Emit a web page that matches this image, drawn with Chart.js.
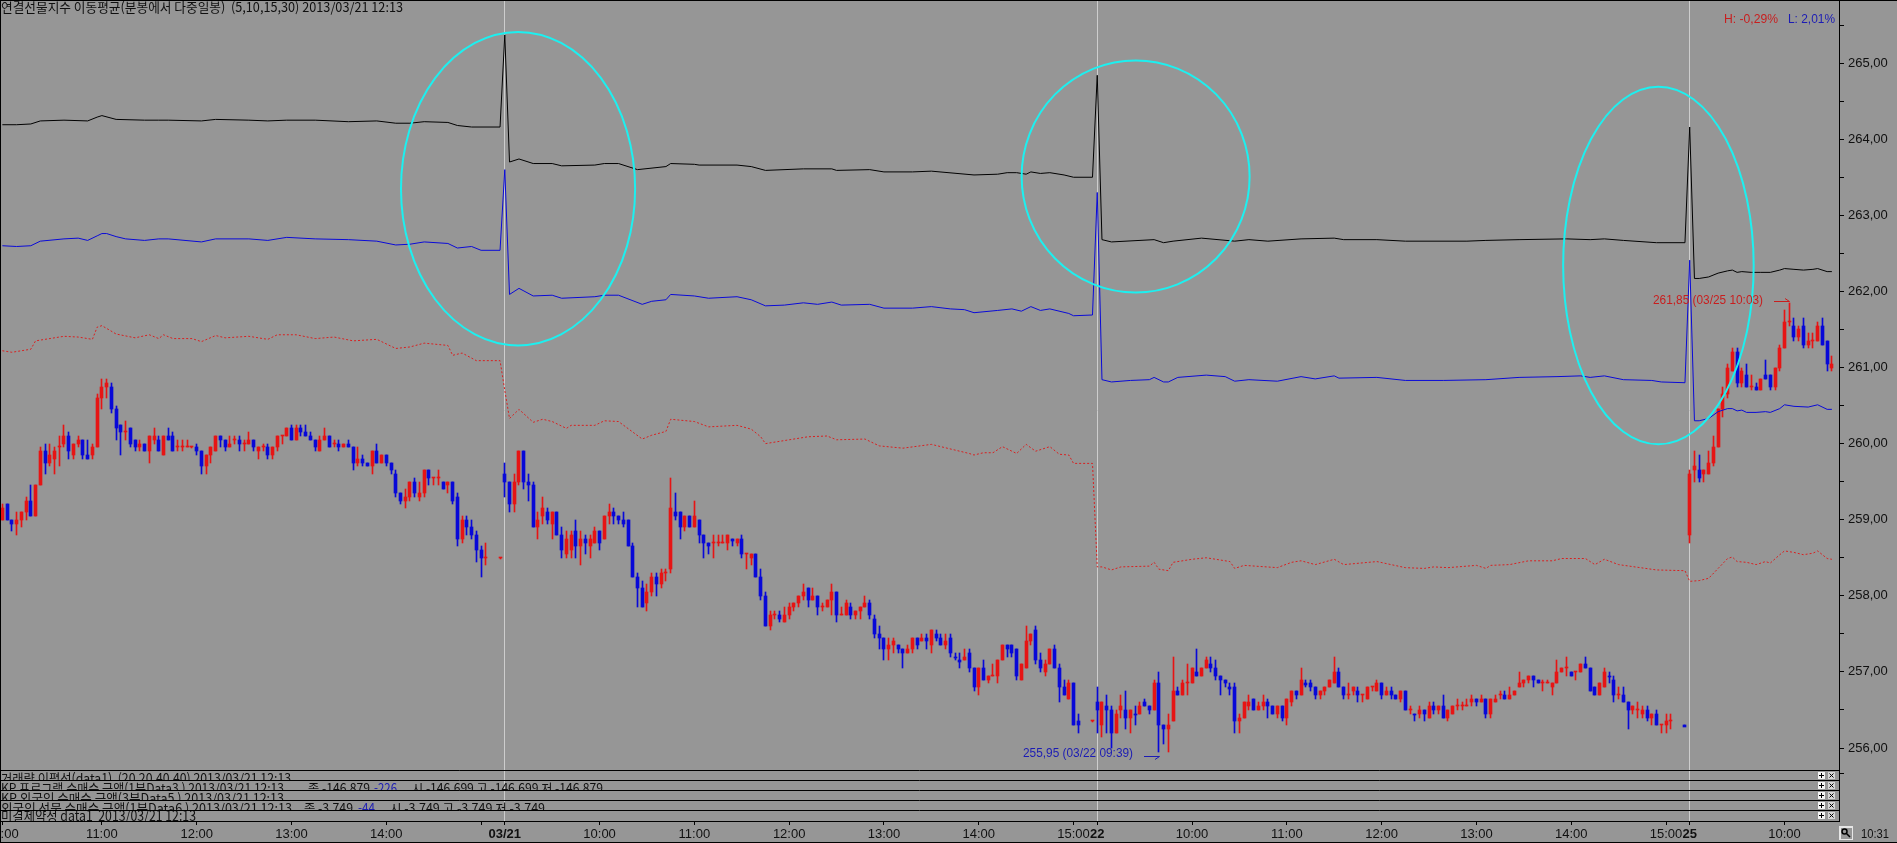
<!DOCTYPE html>
<html lang="ko">
<head>
<meta charset="UTF-8">
<title>연결선물지수 이동평균</title>
<script src="https://cdn.jsdelivr.net/npm/chart.js"></script>
<style>
    html, body { margin: 0; padding: 0; background: #969696; overflow: hidden; }
    canvas { display: block; background: #969696; }
</style>
</head>
<body>
<canvas id="chart" width="1897" height="843"></canvas>
<script>
// 3 minute candles, 03/20 10:00 to 03/25 10:30. null = no trade printed
const opens = [
259.00,259.20,259.00,258.95,259.00,259.10,259.25,259.05,259.45,259.90,
259.75,259.80,259.95,260.00,260.10,259.85,260.00,260.05,259.85,259.85,
259.95,260.60,260.75,260.75,260.45,260.25,260.15,260.20,260.05,259.95,
260.00,259.90,260.05,260.05,259.85,260.10,260.10,259.95,259.95,259.95,
259.95,259.95,259.90,259.70,259.85,259.90,260.10,260.05,259.95,260.05,
260.05,260.00,260.00,260.05,259.90,259.95,259.95,259.85,259.95,260.10,
260.10,260.20,260.05,260.20,260.15,260.10,260.05,259.90,260.05,260.10,
260.00,260.00,259.95,260.00,259.95,259.75,259.80,259.75,259.70,259.90,
259.75,259.85,259.75,259.60,259.35,259.25,259.30,259.50,259.30,259.35,
259.65,259.55,259.55,259.50,259.45,259.50,259.30,258.75,259.00,258.90,
258.80,258.60,258.50,null,null,258.50,259.60,259.50,259.20,259.50,
259.90,259.50,259.45,258.90,259.05,259.10,258.95,259.10,258.80,258.55,
258.60,258.85,258.65,258.75,258.65,258.70,258.85,258.75,259.05,259.10,
259.05,259.00,259.00,258.65,258.25,258.10,257.90,258.05,258.25,258.15,
258.30,258.35,259.10,259.10,258.90,259.05,258.90,259.00,258.80,258.70,
258.70,258.70,258.70,258.70,258.75,258.70,258.75,258.55,258.50,258.55,
258.25,258.00,257.60,257.75,257.75,257.65,257.75,257.85,257.90,258.00,
258.10,257.95,258.00,257.85,257.85,257.95,258.05,257.75,257.75,257.85,
257.75,257.80,257.85,257.90,257.70,257.50,257.45,257.30,257.35,257.35,
257.30,257.25,257.30,257.45,257.40,257.45,257.35,257.50,257.45,257.35,
257.45,257.20,257.15,257.15,257.25,257.05,256.80,257.05,256.90,256.95,
256.95,257.15,257.35,257.35,257.30,256.90,257.05,257.40,257.55,257.15,
257.00,257.10,257.30,257.05,256.80,256.65,256.85,256.35,null,null,
256.35,256.60,256.30,256.55,256.50,256.20,256.50,256.50,256.40,256.45,
256.45,256.60,256.55,256.50,256.85,256.30,256.25,256.35,256.75,256.70,
256.85,256.85,257.00,256.95,257.05,257.10,257.05,256.95,256.90,256.80,
256.80,256.35,256.40,256.55,256.65,256.50,256.55,256.60,256.55,256.45,
256.55,256.40,256.60,256.75,256.70,256.85,256.85,256.80,256.70,256.75,
256.80,256.85,257.00,256.80,256.70,256.75,256.75,256.70,256.65,256.80,
256.75,256.85,256.70,256.75,256.70,256.65,256.75,256.50,256.45,256.45,
256.50,256.40,256.55,256.50,256.55,256.40,256.45,256.55,256.55,256.55,
256.60,256.65,256.60,256.65,256.45,256.60,256.70,256.70,256.65,256.70,
256.80,256.85,256.90,256.95,256.90,256.85,256.85,256.80,256.85,257.00,
257.05,257.00,257.00,257.00,257.10,257.05,256.80,256.70,256.80,256.95,
256.90,256.70,256.70,256.60,256.50,256.50,256.45,256.50,256.40,256.45,
256.30,256.30,256.35,null,null,256.30,258.80,259.65,259.65,259.60,
259.60,259.75,259.95,260.45,260.65,260.95,261.20,260.80,260.90,260.75,
260.75,260.70,260.90,260.90,260.75,261.00,261.25,261.60,261.55,261.40,
261.55,261.30,261.35,261.35,261.55,261.35,261.00
];
const highs = [
259.20,259.20,259.00,259.10,259.10,259.30,259.45,259.45,259.95,260.00,
260.00,259.95,260.10,260.25,260.15,260.00,260.10,260.05,260.05,260.00,
260.65,260.85,260.85,260.80,260.50,260.25,260.30,260.20,260.05,260.05,
260.00,260.10,260.20,260.10,260.10,260.20,260.15,260.05,260.05,260.05,
259.95,260.00,259.90,259.85,259.95,260.10,260.10,260.05,260.10,260.10,
260.10,260.05,260.15,260.05,259.95,260.00,260.00,259.95,260.10,260.10,
260.20,260.25,260.25,260.25,260.25,260.15,260.05,260.10,260.20,260.10,
260.05,260.05,260.00,260.05,259.95,259.95,259.85,259.75,259.90,260.00,
259.85,259.85,259.75,259.65,259.35,259.40,259.50,259.55,259.50,259.65,
259.65,259.55,259.65,259.50,259.50,259.50,259.35,259.05,259.05,259.00,
258.85,258.65,258.70,null,null,258.50,259.75,259.50,259.60,259.90,
259.90,259.60,259.50,259.10,259.30,259.15,259.10,259.10,258.90,258.85,
258.85,259.00,258.85,258.80,258.80,258.90,258.85,259.05,259.20,259.15,
259.05,259.10,259.00,258.70,258.30,258.20,258.15,258.30,258.30,258.35,
258.35,259.55,259.35,259.10,259.05,259.05,259.25,259.00,258.80,258.70,
258.80,258.80,258.80,258.80,258.75,258.75,258.80,258.55,258.55,258.55,
258.35,258.05,257.80,257.80,257.80,257.85,257.90,257.90,258.00,258.15,
258.10,258.10,258.00,257.90,257.95,258.15,258.05,257.85,257.95,257.90,
257.80,257.85,258.00,257.95,257.75,257.60,257.45,257.45,257.45,257.35,
257.30,257.35,257.45,257.45,257.50,257.50,257.55,257.55,257.50,257.50,
257.50,257.25,257.25,257.30,257.30,257.05,257.05,257.15,256.95,257.10,
257.15,257.35,257.35,257.35,257.30,257.10,257.60,257.50,257.60,257.25,
257.15,257.30,257.35,257.10,256.90,256.90,256.85,256.45,null,null,
256.35,256.80,256.60,256.70,256.55,256.50,256.70,256.75,256.50,256.55,
256.60,256.65,256.55,256.90,257.00,256.30,256.45,257.20,256.80,256.90,
257.10,257.05,257.30,257.05,257.20,257.20,257.15,256.95,256.90,256.85,
256.85,256.45,256.60,256.70,256.65,256.60,256.70,256.65,256.55,256.55,
256.55,256.65,256.75,256.75,257.05,256.90,256.90,256.80,256.75,256.80,
256.90,257.20,257.05,256.80,256.85,256.80,256.80,256.70,256.80,256.80,
256.90,256.85,256.80,256.80,256.70,256.75,256.75,256.55,256.45,256.55,
256.50,256.60,256.60,256.55,256.70,256.50,256.55,256.65,256.60,256.65,
256.70,256.65,256.70,256.65,256.65,256.70,256.75,256.75,256.80,256.75,
257.00,256.90,256.95,256.95,256.90,256.90,256.90,256.85,257.15,257.05,
257.20,257.00,257.00,257.10,257.20,257.05,256.80,256.85,257.05,257.00,
256.95,256.80,256.80,256.60,256.55,256.60,256.55,256.55,256.45,256.50,
256.30,256.45,256.45,null,null,256.30,259.65,259.90,259.85,259.65,
259.90,260.10,260.45,260.75,261.05,261.25,261.25,261.00,261.05,260.90,
260.80,260.85,261.10,260.90,261.00,261.30,261.75,261.85,261.65,261.55,
261.65,261.45,261.45,261.60,261.65,261.35,261.15
];
const lows = [
259.00,259.00,258.85,258.80,258.90,259.00,259.05,259.05,259.45,259.60,
259.70,259.60,259.70,259.95,259.80,259.80,259.95,259.80,259.80,259.80,
259.95,260.45,260.60,260.40,260.05,259.85,260.05,259.95,259.90,259.90,
259.90,259.75,260.00,259.90,259.85,260.05,259.90,259.90,259.90,259.95,
259.95,259.85,259.60,259.60,259.75,259.90,259.95,259.90,259.95,260.00,
259.90,259.90,260.00,259.90,259.80,259.90,259.80,259.80,259.90,260.00,
260.10,260.05,260.05,260.10,260.10,260.05,259.90,259.90,260.05,259.95,
259.95,259.90,259.95,259.95,259.65,259.70,259.70,259.70,259.60,259.75,
259.75,259.70,259.60,259.30,259.20,259.15,259.25,259.30,259.25,259.30,
259.45,259.45,259.45,259.40,259.35,259.20,258.65,258.70,258.80,258.75,
258.45,258.25,258.40,null,null,258.50,259.30,259.10,259.10,259.45,
259.40,259.25,258.90,258.75,258.95,258.95,258.75,258.80,258.50,258.50,
258.50,258.50,258.40,258.55,258.50,258.70,258.60,258.75,258.95,258.95,
258.95,258.90,258.65,258.25,257.85,257.85,257.80,258.00,258.00,258.10,
258.20,258.30,259.00,258.75,258.85,258.90,258.90,258.70,258.50,258.55,
258.50,258.65,258.70,258.60,258.65,258.65,258.50,258.35,258.40,258.25,
257.95,257.60,257.55,257.70,257.65,257.65,257.70,257.80,257.85,257.95,
257.85,257.95,257.75,257.80,257.85,257.75,257.65,257.75,257.75,257.70,
257.70,257.70,257.85,257.70,257.45,257.30,257.15,257.15,257.25,257.25,
257.05,257.25,257.25,257.30,257.40,257.30,257.25,257.40,257.35,257.30,
257.20,257.15,257.05,257.15,257.00,256.75,256.70,256.90,256.85,256.95,
256.85,257.15,257.20,257.20,256.90,256.90,257.05,257.35,257.10,257.00,
256.95,257.10,257.05,256.60,256.70,256.65,256.30,256.20,null,null,
256.35,256.20,256.15,256.20,256.00,256.20,256.40,256.25,256.20,256.30,
256.45,256.55,256.45,256.50,255.95,256.05,255.95,256.35,256.70,256.70,
256.70,256.85,256.95,256.95,257.05,257.00,256.90,256.70,256.80,256.70,
256.20,256.20,256.40,256.50,256.50,256.50,256.50,256.40,256.45,256.40,
256.35,256.30,256.55,256.65,256.70,256.80,256.75,256.65,256.65,256.70,
256.80,256.85,256.80,256.65,256.65,256.70,256.60,256.60,256.65,256.75,
256.75,256.65,256.70,256.65,256.65,256.60,256.50,256.45,256.35,256.40,
256.35,256.40,256.45,256.45,256.40,256.35,256.45,256.50,256.50,256.55,
256.55,256.55,256.60,256.40,256.40,256.60,256.65,256.65,256.65,256.70,
256.80,256.80,256.85,256.80,256.85,256.75,256.85,256.70,256.85,257.00,
256.95,256.95,256.90,257.00,257.05,256.75,256.70,256.70,256.80,256.85,
256.60,256.65,256.60,256.25,256.45,256.40,256.40,256.35,256.30,256.30,
256.20,256.20,256.25,null,null,256.30,258.70,259.50,259.50,259.50,
259.60,259.70,259.95,260.35,260.60,260.95,260.75,260.75,260.75,260.70,
260.70,260.70,260.85,260.70,260.70,260.95,261.25,261.55,261.35,261.35,
261.25,261.25,261.25,261.35,261.30,260.95,260.95
];
const closes = [
259.15,259.00,258.95,259.00,259.10,259.25,259.05,259.45,259.90,259.75,
259.85,259.90,259.95,260.10,259.90,260.00,260.05,259.85,259.80,259.95,
260.60,260.75,260.80,260.45,260.20,260.15,260.15,260.00,259.95,260.00,
259.90,260.10,260.10,259.90,260.10,260.05,259.90,259.95,259.95,259.95,
259.95,259.90,259.70,259.85,259.95,260.10,260.05,259.95,260.00,260.05,
260.00,260.00,260.05,259.95,259.95,259.95,259.85,259.95,260.10,260.10,
260.20,260.05,260.20,260.15,260.10,260.05,259.95,260.05,260.10,259.95,
260.00,259.95,260.00,259.95,259.75,259.80,259.75,259.70,259.90,259.75,
259.85,259.75,259.65,259.35,259.25,259.30,259.50,259.35,259.35,259.65,
259.55,259.55,259.55,259.40,259.50,259.25,258.75,259.00,258.90,258.80,
258.60,258.50,258.50,null,null,258.50,259.50,259.20,259.50,259.90,
259.50,259.45,258.90,259.00,259.15,259.00,259.10,258.80,258.60,258.75,
258.80,258.65,258.75,258.70,258.75,258.85,258.70,259.05,259.10,259.05,
259.00,258.95,258.65,258.25,258.10,257.85,258.05,258.25,258.15,258.30,
258.30,259.15,259.05,258.90,259.05,258.90,259.05,258.80,258.70,258.65,
258.70,258.70,258.70,258.80,258.72,258.75,258.55,258.55,258.55,258.25,
258.00,257.60,257.75,257.75,257.70,257.75,257.85,257.90,258.00,258.05,
257.95,258.00,257.85,257.85,257.95,258.05,257.75,257.75,257.90,257.75,
257.80,257.85,257.90,257.75,257.50,257.45,257.30,257.35,257.40,257.30,
257.25,257.30,257.45,257.35,257.45,257.40,257.55,257.45,257.35,257.40,
257.25,257.18,257.13,257.20,257.05,256.80,257.05,256.90,256.95,256.95,
257.15,257.35,257.30,257.25,256.95,257.10,257.40,257.50,257.15,257.05,
257.10,257.30,257.05,256.80,256.70,256.85,256.30,256.30,null,null,
256.35,256.50,256.60,256.50,256.20,256.45,256.55,256.40,256.50,256.43,
256.55,256.55,256.50,256.85,256.30,256.25,256.30,256.75,256.70,256.85,
256.85,257.05,256.95,257.05,257.15,257.05,256.95,256.90,256.85,256.78,
256.35,256.40,256.60,256.60,256.50,256.55,256.60,256.55,256.45,256.55,
256.40,256.65,256.75,256.70,256.90,256.83,256.80,256.70,256.75,256.80,
256.90,257.00,256.80,256.70,256.70,256.80,256.70,256.70,256.80,256.80,
256.85,256.70,256.75,256.70,256.65,256.75,256.50,256.50,256.43,256.50,
256.45,256.55,256.50,256.55,256.40,256.50,256.55,256.55,256.55,256.55,
256.65,256.60,256.65,256.45,256.65,256.65,256.70,256.65,256.70,256.75,
256.85,256.90,256.95,256.90,256.85,256.85,256.85,256.85,257.00,257.05,
257.05,256.95,257.00,257.10,257.05,256.75,256.70,256.85,257.00,256.93,
256.70,256.70,256.60,256.50,256.55,256.50,256.50,256.40,256.45,256.30,
256.30,256.35,256.35,null,null,256.28,259.60,259.70,259.55,259.65,
259.75,259.95,260.45,260.65,261.00,261.20,260.80,260.95,260.75,260.75,
260.70,260.85,260.85,260.75,261.00,261.25,261.60,261.60,261.40,261.50,
261.30,261.35,261.35,261.55,261.30,261.05,261.05
];

// moving averages, [bar, price]
const blackLine = [
[0,264.19],[3,264.19],[6,264.20],[8,264.24],[13,264.25],[18,264.24],[20,264.29],[21,264.31],[24,264.26],[30,264.25],
[33,264.25],[35,264.25],[42,264.24],[45,264.26],[52,264.25],[56,264.24],[60,264.25],[66,264.25],[73,264.23],[79,264.24],
[83,264.21],[86,264.21],[89,264.23],[94,264.22],[96,264.18],[99,264.16],[105,264.16],
[106,265.37],[107,263.70],[109,263.74],[112,263.68],[116,263.68],[118,263.65],[125,263.66],[127,263.68],[130,263.68],[134,263.60],
[140,263.64],[141,263.68],[146,263.67],[147,263.66],[155,263.66],[158,263.64],[161,263.59],[169,263.61],[175,263.61],[176,263.59],
[183,263.60],[186,263.57],[192,263.57],[196,263.58],[205,263.53],[210,263.54],[212,263.56],[214,263.56],[216,263.54],[217,263.57],
[219,263.55],[221,263.56],[224,263.53],[226,263.50],[230,263.50],
[231,264.84],[232,262.68],[234,262.65],[243,262.68],[245,262.64],[247,262.66],[253,262.70],[260,262.66],[263,262.68],[267,262.66],
[274,262.69],[281,262.70],[283,262.68],[290,262.68],[296,262.66],[309,262.66],[313,262.67],[320,262.68],[330,262.69],[335,262.68],
[338,262.69],[342,262.67],[349,262.64],[355,262.64],
[356,264.16],[357,262.17],[358,262.17],[360,262.19],[362,262.24],[364,262.27],[365,262.28],[366,262.25],[367,262.26],[369,262.25],
[371,262.25],[373,262.25],[375,262.28],[376,262.30],[378,262.29],[380,262.28],[382,262.29],[383,262.30],[385,262.26],[386,262.26]
];
const blueLine = [
[0,262.60],[3,262.59],[6,262.60],[8,262.66],[13,262.69],[16,262.70],[18,262.67],[20,262.73],[21,262.76],[22,262.76],
[24,262.72],[26,262.69],[30,262.67],[33,262.69],[35,262.69],[42,262.65],[45,262.69],[52,262.69],[56,262.67],[60,262.71],
[66,262.69],[73,262.68],[79,262.66],[83,262.61],[86,262.62],[89,262.65],[94,262.63],[96,262.57],[99,262.59],[101,262.54],[105,262.54],
[106,263.60],[107,261.96],[109,262.04],[112,261.94],[116,261.95],[118,261.91],[125,261.93],[127,261.95],[130,261.95],[135,261.83],
[137,261.87],[140,261.89],[141,261.96],[146,261.94],[149,261.91],[155,261.93],[158,261.89],[161,261.81],[165,261.82],[169,261.85],
[172,261.83],[175,261.86],[177,261.82],[183,261.83],[186,261.78],[192,261.78],[196,261.80],[200,261.77],[203,261.76],[205,261.72],
[210,261.75],[213,261.77],[215,261.74],[217,261.80],[219,261.75],[221,261.77],[225,261.71],[226,261.68],[230,261.69],
[231,263.30],[232,260.84],[234,260.81],[238,260.83],[242,260.84],[243,260.87],[245,260.81],[246,260.81],[248,260.87],[254,260.90],
[258,260.88],[260,260.82],[263,260.84],[269,260.82],[274,260.88],[277,260.85],[281,260.89],[282,260.86],[290,260.87],[296,260.83],
[304,260.83],[313,260.84],[320,260.87],[328,260.88],[333,260.89],[335,260.87],[338,260.89],[342,260.84],[348,260.83],[350,260.81],[355,260.80],
[356,262.41],[357,260.30],[358,260.30],[360,260.33],[362,260.42],[364,260.46],[365,260.46],[366,260.43],[367,260.44],[368,260.41],
[370,260.41],[372,260.42],[373,260.41],[375,260.46],[376,260.51],[378,260.49],[381,260.48],[383,260.51],[385,260.45],[386,260.45]
];
const redLine = [
[0,261.22],[2,261.20],[6,261.24],[7,261.35],[9,261.37],[13,261.41],[16,261.40],[19,261.37],[20,261.53],[21,261.55],
[24,261.44],[28,261.39],[31,261.43],[33,261.38],[34,261.43],[36,261.38],[40,261.38],[42,261.34],[45,261.42],[47,261.39],
[52,261.41],[56,261.37],[58,261.43],[62,261.43],[66,261.38],[70,261.40],[74,261.35],[79,261.37],[83,261.25],[86,261.27],
[89,261.32],[94,261.29],[95,261.16],[97,261.19],[100,261.09],[105,261.09],
[106,260.70],[107,260.33],[109,260.45],[112,260.28],[114,260.32],[116,260.29],[119,260.20],[120,260.24],[125,260.24],[127,260.30],
[130,260.29],[135,260.06],[137,260.11],[140,260.16],[141,260.32],[146,260.29],[149,260.22],[155,260.24],[158,260.19],[160,260.09],
[161,260.00],[170,260.09],[174,260.10],[176,260.05],[182,260.06],[185,259.97],[190,259.94],[196,259.99],[204,259.87],[205,259.85],
[207,259.88],[209,259.88],[211,259.96],[214,259.87],[216,259.99],[218,259.90],[221,259.96],[223,259.86],[225,259.85],[226,259.74],[230,259.74],
[231,258.38],[232,258.38],[234,258.34],[236,258.38],[242,258.39],[243,258.44],[244,258.35],[246,258.33],[247,258.44],[251,258.48],
[254,258.50],[259,258.45],[260,258.36],[262,258.40],[269,258.37],[272,258.44],[274,258.46],[277,258.41],[281,258.48],[283,258.41],
[290,258.45],[293,258.41],[296,258.37],[300,258.36],[302,258.38],[305,258.37],[311,258.40],[313,258.36],[314,258.40],[318,258.41],
[322,258.46],[327,258.46],[329,258.49],[334,258.49],[336,258.41],[338,258.48],[341,258.41],[349,258.34],[355,258.33],
[356,258.19],[358,258.20],[360,258.23],[362,258.36],[364,258.49],[365,258.51],[366,258.45],[368,258.44],[370,258.41],[372,258.45],
[373,258.43],[375,258.54],[376,258.59],[378,258.57],[380,258.54],[382,258.56],[383,258.59],[385,258.49],[386,258.48]
];

// x axis
const tickBars = [0,21,41,61,81,101,106,126,146,166,186,206,226,231,251,271,291,311,331,351,356,376];
const tickLabels = ['10:00','11:00','12:00','13:00','14:00','','03/21','10:00','11:00','12:00','13:00','14:00','15:00','22','10:00','11:00','12:00','13:00','14:00','15:00','25','10:00'];
const dayBars = [106,231,356];
// y axis
const priceTicks = [255.66,256,256.5,257,257.5,258,258.5,259,259.5,260,260.5,261,261.5,262,262.5,263,263.5,264,264.5,265,265.5];

// the hand drawn circles, in bars and price
const circleBars = [108.8,239.1,349.4];
const circleBarRadii = [24.7,24.05,20.1];
const circlePrices = [263.35,263.51,262.34];
const circlePriceRadii = [2.06,1.525,2.35];

// period low and high markers
const markBars = [244,377];
const markPrices = [255.95,261.85];
const markTexts = ['255,95 (03/22 09:39)','261,85 (03/25 10:03)'];

const title = '연결선물지수 이동평균(분봉에서 다중일봉)  (5,10,15,30) 2013/03/21 12:13';
const panelTexts = [
    '거래량 이평선(data1)  (20,20,40,40) 2013/03/21 12:13',
    'KP 프로그램 순매수 금액(1분Data3 ) 2013/03/21 12:13',
    'KP 외국인 순매수 금액(3분Data5 ) 2013/03/21 12:13',
    '외국인 선물 순매수 금액(1분Data6 ) 2013/03/21 12:13',
    '미결제약정 data1  2013/03/21 12:13'
];

const RED = '#e61414';
const BLUE = '#0808d8';
const NARROW = '"Liberation Sans Narrow", "Liberation Sans", sans-serif';
const HANGUL = '"Noto Sans CJK KR", sans-serif';

const categories = opens.concat([null]).map((_, i) => String(i));

function lineData(points) {
    const out = categories.map(() => null);
    points.forEach(p => { out[p[0]] = p[1]; });
    return out;
}

function text(ctx, str, x, y, font, color, maxWidth, align) {
    ctx.font = font;
    ctx.fillStyle = color;
    ctx.textAlign = align || 'left';
    ctx.textBaseline = 'alphabetic';
    ctx.fillText(str, x, y, maxWidth);
}

// bars land on fractional pixels, snap them so wicks stay 1px sharp
const snapBars = {
    id: 'snapBars',
    beforeDatasetsDraw(chart) {
        chart.getSortedVisibleDatasetMetas().forEach(meta => {
            if (meta.type !== 'bar') return;
            meta.data.forEach(el => {
                if (isNaN(el.x) || isNaN(el.y)) return;
                el.x = Math.floor(el.x) + 0.5;
                el.y = Math.round(el.y);
                el.base = Math.round(el.base);
                if (el.y === el.base) el.base = el.y + 1;
            });
        });
    }
};

const overlays = {
    id: 'overlays',
    afterDatasetsDraw(chart) {
        const ctx = chart.ctx;
        const x = chart.scales.x;
        const y = chart.scales.y;

        ctx.save();
        ctx.strokeStyle = '#1cf0f0';
        ctx.lineWidth = 2;
        circleBars.forEach((bar, i) => {
            const cx = x.getPixelForValue(bar);
            const cy = y.getPixelForValue(circlePrices[i]);
            const rx = circleBarRadii[i] * (x.getPixelForValue(1) - x.getPixelForValue(0));
            const ry = y.getPixelForValue(circlePrices[i] - circlePriceRadii[i]) - cy;
            ctx.beginPath();
            ctx.ellipse(cx, cy, rx, ry, 0, 0, Math.PI * 2);
            ctx.stroke();
        });
        ctx.restore();

        // low marker sits under its wick, high marker just above it
        ctx.save();
        markBars.forEach((bar, i) => {
            const low = i === 0;
            const color = low ? '#1c1cb4' : '#c81e1e';
            const px = Math.round(x.getPixelForValue(bar));
            const py = Math.round(y.getPixelForValue(markPrices[i])) + (low ? 4 : -2);
            ctx.strokeStyle = color;
            ctx.lineWidth = 1;
            ctx.beginPath();
            ctx.moveTo(px - 15, py + 0.5);
            ctx.lineTo(px + 0.5, py + 0.5);
            ctx.lineTo(px - 4, py + (low ? 3.5 : -2.5));
            ctx.stroke();
            text(ctx, markTexts[i], px - 26, py + (low ? 1 : 3), '13px ' + NARROW, color, 110, 'right');
        });
        ctx.restore();
    },
    afterDraw(chart) {
        const ctx = chart.ctx;
        const right = chart.chartArea.right;
        ctx.save();

        text(ctx, title, 1, 12, '13px ' + HANGUL, '#101010', 402);
        text(ctx, 'H: -0,29%', 1724, 23, '13px ' + NARROW, '#c81e1e', 54);
        text(ctx, 'L: 2,01%', 1788, 23, '13px ' + NARROW, '#1c1cb4', 47);

        // sub panels below the price area, only their header rows are showing
        const rows = [770, 780, 790, 800, 810, 821];
        ctx.strokeStyle = '#000';
        ctx.lineWidth = 1;
        rows.forEach(py => {
            ctx.beginPath();
            ctx.moveTo(0, py + 0.5);
            ctx.lineTo(right, py + 0.5);
            ctx.stroke();
        });

        const widths = [290, 283, 283, 291, 195];
        panelTexts.forEach((str, i) => {
            const big = i === 4;
            ctx.save();
            ctx.beginPath();
            ctx.rect(0, rows[i] + 1, right, rows[i + 1] - rows[i] - 1);
            ctx.clip();
            text(ctx, str, 1, rows[i] + (big ? 11 : 13), (big ? '14px ' : '13px ') + HANGUL, '#101010', widths[i]);
            if (i === 1) {
                text(ctx, '종 -146,879', 308, rows[i] + 13, '13px ' + HANGUL, '#101010', 62);
                text(ctx, '-226', 374, rows[i] + 13, '13px ' + HANGUL, '#1c1cb4', 23);
                text(ctx, '시 -146,699 고 -146,699 저 -146,879', 412, rows[i] + 13, '13px ' + HANGUL, '#101010', 191);
            }
            if (i === 3) {
                text(ctx, '종 -3,749', 304, rows[i] + 13, '13px ' + HANGUL, '#101010', 49);
                text(ctx, '-44', 358, rows[i] + 13, '13px ' + HANGUL, '#1c1cb4', 17);
                text(ctx, '시 -3,749 고 -3,749 저 -3,749', 390, rows[i] + 13, '13px ' + HANGUL, '#101010', 155);
            }
            ctx.restore();

            // + and x buttons at the end of each row
            const by = rows[i] + 2;
            ctx.fillStyle = '#f4f4f4';
            ctx.fillRect(1818, by, 7, 7);
            ctx.fillStyle = '#d8d8d8';
            ctx.fillRect(1828, by, 7, 7);
            ctx.strokeStyle = '#000';
            ctx.beginPath();
            ctx.moveTo(1819, by + 3.5); ctx.lineTo(1824, by + 3.5);
            ctx.moveTo(1821.5, by + 1); ctx.lineTo(1821.5, by + 6);
            ctx.moveTo(1829.5, by + 1.5); ctx.lineTo(1833.5, by + 5.5);
            ctx.moveTo(1833.5, by + 1.5); ctx.lineTo(1829.5, by + 5.5);
            ctx.stroke();
        });

        // magnifier button and last bar time
        ctx.fillStyle = '#e6e6e6';
        ctx.fillRect(1839, 826, 14, 14);
        ctx.fillStyle = '#969696';
        ctx.fillRect(1841, 828, 11, 11);
        ctx.strokeStyle = '#000';
        ctx.lineWidth = 1.5;
        ctx.beginPath();
        ctx.arc(1844.5, 831.5, 2.5, 0, Math.PI * 2);
        ctx.moveTo(1846.5, 833.5);
        ctx.lineTo(1850, 837);
        ctx.stroke();
        text(ctx, '10:31', 1875, 838, '13px ' + NARROW, '#101010', 28, 'center');

        // window frame
        ctx.fillStyle = '#000';
        ctx.fillRect(0, 0, 1897, 1);
        ctx.fillRect(0, 0, 1, 843);
        ctx.fillRect(0, 842, 1897, 1);
        ctx.restore();
    }
};

new Chart(document.getElementById('chart'), {
    type: 'bar',
    data: {
        labels: categories,
        datasets: [
            {
                type: 'line', data: lineData(blackLine), borderColor: '#000000', borderWidth: 1,
                pointRadius: 0, spanGaps: true, tension: 0, borderJoinStyle: 'miter', order: 1
            },
            {
                type: 'line', data: lineData(blueLine), borderColor: '#0a0ad8', borderWidth: 1,
                pointRadius: 0, spanGaps: true, tension: 0, borderJoinStyle: 'miter', order: 1
            },
            {
                type: 'line', data: lineData(redLine), borderColor: '#d82020', borderWidth: 1, borderDash: [2, 2],
                pointRadius: 0, spanGaps: true, tension: 0, order: 1
            },
            {
                data: opens.map((o, i) => o === null ? null : [lows[i], highs[i]]),
                backgroundColor: opens.map((o, i) => closes[i] >= o ? RED : BLUE),
                barThickness: 1, grouped: false, order: 3
            },
            {
                data: opens.map((o, i) => o === null ? null : [o, closes[i]]),
                backgroundColor: opens.map((o, i) => closes[i] >= o ? RED : BLUE),
                barThickness: 3, minBarLength: 1, grouped: false, order: 2
            }
        ]
    },
    options: {
        responsive: false,
        animation: false,
        events: [],
        layout: { padding: 0 },
        plugins: { legend: { display: false }, tooltip: { enabled: false } },
        scales: {
            x: {
                offset: true,
                // no room kept for half labels at the ends, the first one is cut off in the original too
                afterFit(scale) { scale.height = 22; scale.paddingLeft = 0; scale.paddingRight = 0; },
                afterBuildTicks(scale) { scale.ticks = tickBars.map(v => ({ value: v })); },
                border: { color: '#000', width: 1 },
                grid: {
                    offset: false,
                    drawTicks: true,
                    tickLength: 4,
                    tickColor: '#000',
                    color: c => c.tick && dayBars.includes(c.tick.value) ? '#cdcdcd' : 'rgba(0,0,0,0)'
                },
                ticks: {
                    autoSkip: false,
                    maxRotation: 0,
                    padding: 2,
                    color: '#101010',
                    font: c => ({
                        family: NARROW,
                        size: 13,
                        weight: c.tick && dayBars.includes(c.tick.value) ? 'bold' : 'normal'
                    }),
                    callback: value => tickLabels[tickBars.indexOf(value)]
                }
            },
            y: {
                position: 'right',
                min: 255.041,
                max: 265.829,
                afterFit(scale) { scale.width = 58; scale.paddingTop = 0; scale.paddingBottom = 0; },
                afterBuildTicks(scale) { scale.ticks = priceTicks.map(v => ({ value: v })); },
                border: { color: '#000', width: 1 },
                grid: { drawOnChartArea: false, tickLength: 5, tickColor: '#000' },
                ticks: {
                    padding: 4,
                    color: '#101010',
                    font: { family: NARROW, size: 13 },
                    callback: value => Number.isInteger(value) ? value.toFixed(2).replace('.', ',') : ''
                }
            }
        }
    },
    plugins: [snapBars, overlays]
});
</script>
</body>
</html>
